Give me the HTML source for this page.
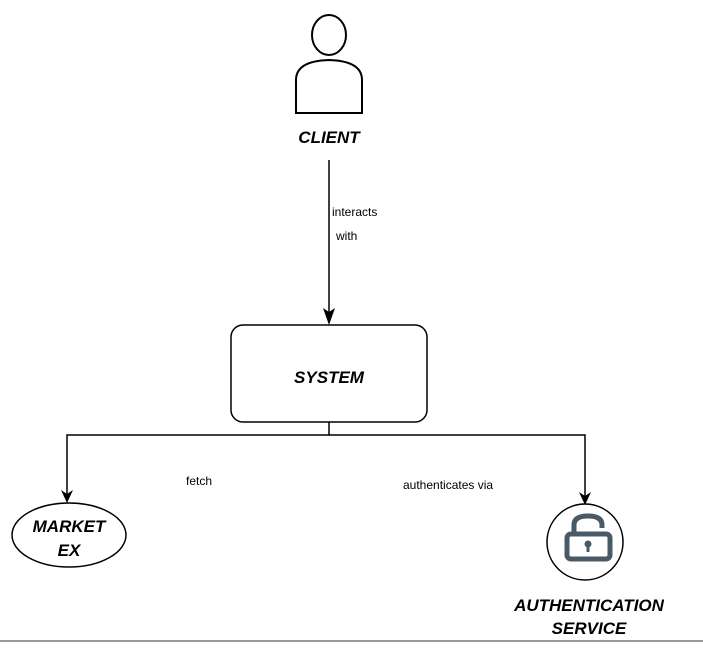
<!DOCTYPE html>
<html><head><style>
html,body{margin:0;padding:0;background:#fff;}
svg text{font-family:"Comic Sans MS","Liberation Sans",sans-serif;}
</style></head><body>
<svg width="703" height="644" xmlns="http://www.w3.org/2000/svg">
<ellipse cx="329" cy="35" rx="17" ry="20" fill="#fff" stroke="#000" stroke-width="2"/>
<path d="M296,113 L296,80 Q296,61 329,60 Q362,61 362,80 L362,113 Z" fill="#fff" stroke="#000" stroke-width="2"/>
<text x="329" y="143" text-anchor="middle" font-size="17" font-weight="bold" font-style="italic">CLIENT</text>
<line x1="329" y1="160" x2="329" y2="312" stroke="#000" stroke-width="1.5"/>
<path d="M323,308 L329,325 L335,308 L329,312 Z" fill="#000"/>
<text x="332" y="216" font-family="Liberation Sans,sans-serif" font-size="12" style="font-family:'Liberation Sans',sans-serif">interacts</text>
<text x="336" y="240" font-size="12" style="font-family:'Liberation Sans',sans-serif">with</text>
<rect x="231" y="325" width="196" height="97" rx="12" fill="#fff" stroke="#000" stroke-width="1.5"/>
<text x="329" y="383" text-anchor="middle" font-size="17" font-weight="bold" font-style="italic">SYSTEM</text>
<polyline points="329,422 329,435 67,435 67,495" fill="none" stroke="#000" stroke-width="1.5"/>
<polyline points="329,435 585,435 585,497" fill="none" stroke="#000" stroke-width="1.5"/>
<path d="M61,490 L67,503 L73,490 L67,494 Z" fill="#000"/>
<path d="M579,492 L585,505 L591,492 L585,496 Z" fill="#000"/>
<text x="186" y="485" font-size="12" style="font-family:'Liberation Sans',sans-serif">fetch</text>
<text x="403" y="489" font-size="12" style="font-family:'Liberation Sans',sans-serif">authenticates via</text>
<ellipse cx="69" cy="535" rx="57" ry="32" fill="#fff" stroke="#000" stroke-width="1.5"/>
<text x="69" y="532" text-anchor="middle" font-size="17" font-weight="bold" font-style="italic">MARKET</text>
<text x="69" y="556" text-anchor="middle" font-size="17" font-weight="bold" font-style="italic">EX</text>
<circle cx="585" cy="542" r="38" fill="#fff" stroke="#000" stroke-width="1.5"/>
<path d="M574,533 L574,525 Q574,516 588,516 Q602,516 602,525 L602,528" fill="none" stroke="#4a5a64" stroke-width="5"/>
<rect x="567" y="534" width="43" height="25" rx="4" fill="none" stroke="#4a5a64" stroke-width="5"/>
<circle cx="588" cy="544" r="3.5" fill="#4a5a64"/>
<rect x="586.5" y="545" width="3" height="7" fill="#4a5a64"/>
<text x="589" y="611" text-anchor="middle" font-size="17" font-weight="bold" font-style="italic">AUTHENTICATION</text>
<text x="589" y="634" text-anchor="middle" font-size="17" font-weight="bold" font-style="italic">SERVICE</text>
<line x1="0" y1="641" x2="703" y2="641" stroke="#999" stroke-width="2"/>
</svg>
</body></html>
